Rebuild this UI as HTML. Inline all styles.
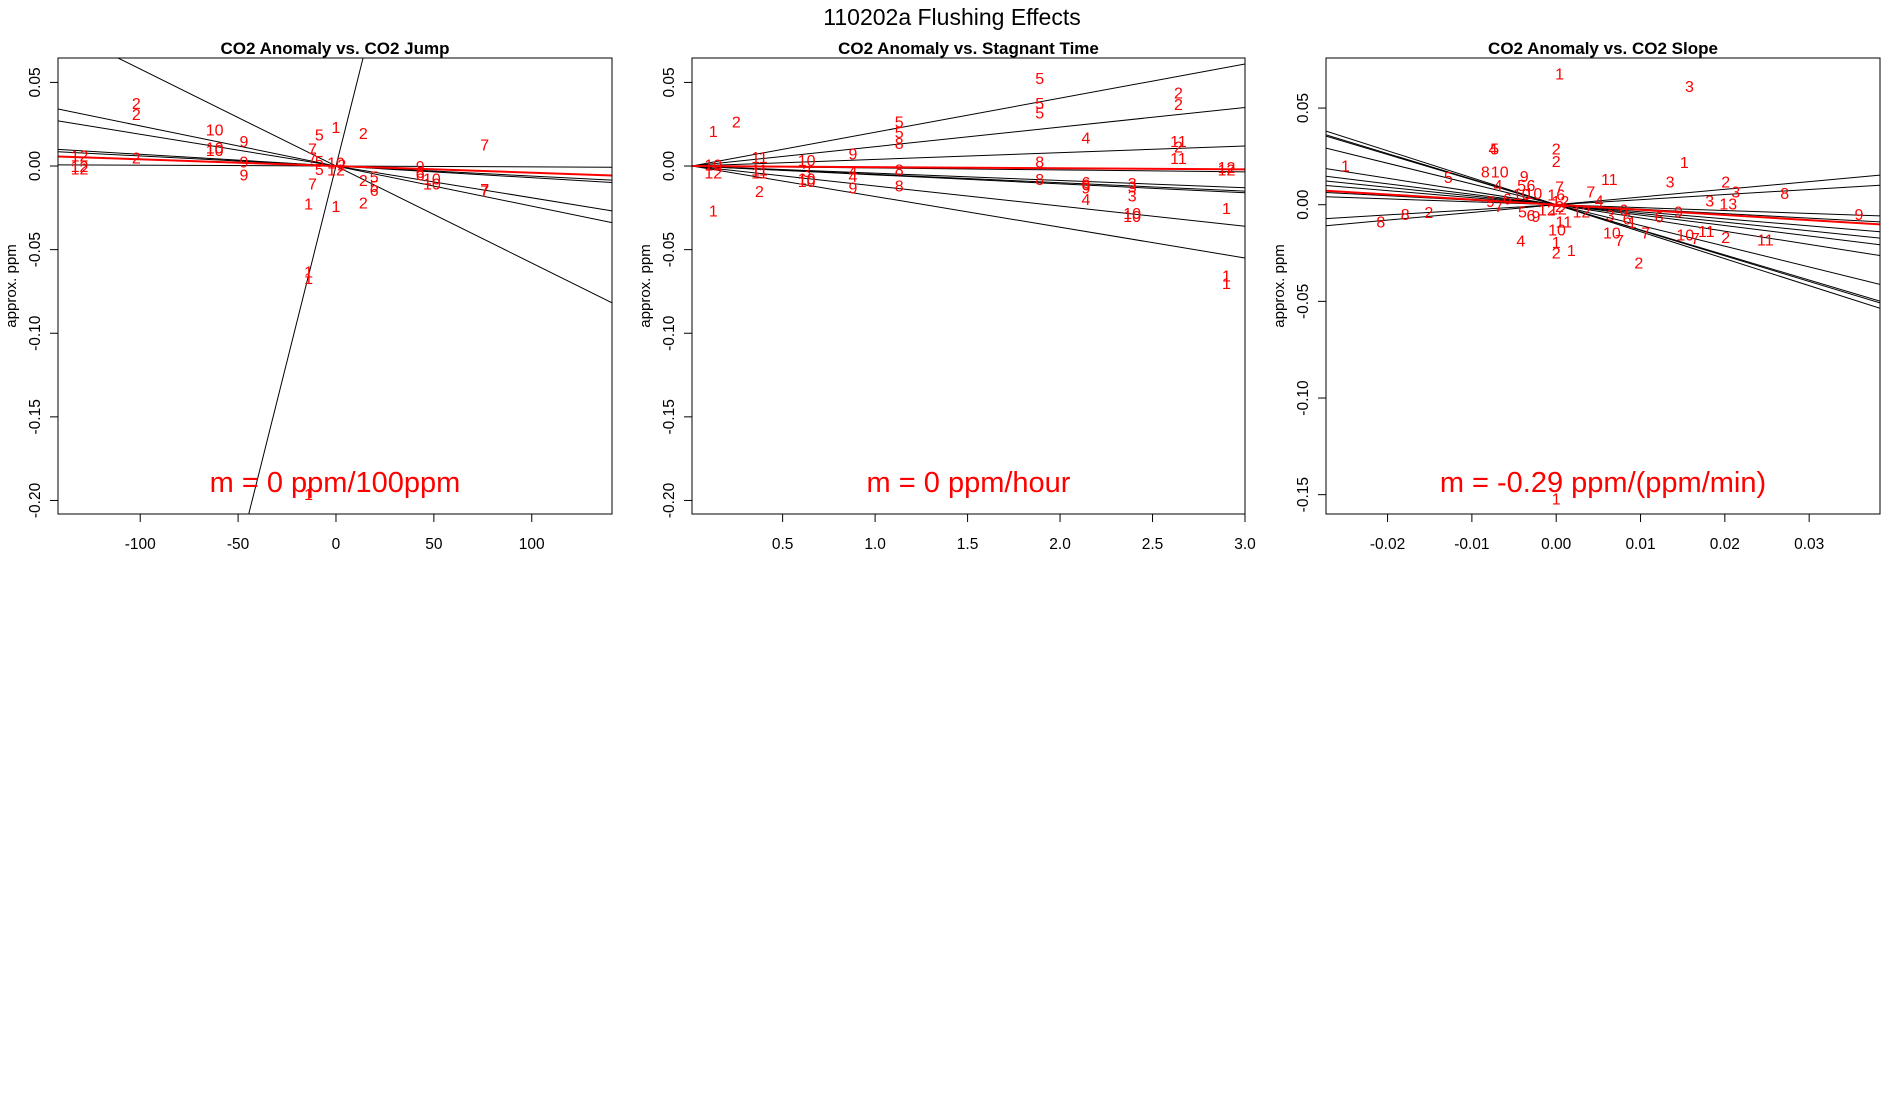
<!DOCTYPE html>
<html><head><meta charset="utf-8"><style>
html,body{margin:0;padding:0;background:#fff;overflow:hidden;width:1900px;height:1100px;}
svg{display:block;font-family:"Liberation Sans",sans-serif;}
</style></head><body>
<svg id="c" width="1900" height="1100">
<text x="952" y="25" font-size="23" text-anchor="middle">110202a   Flushing Effects</text>
</svg>
<script>
// Panel 1: CO2 Jump
const p1Slopes=[0.00467,-0.00058,-0.00024,-0.00019,-0.00007,-0.00006,-0.000005];
const p1Red=-0.00004;
const p1X=[-102,-102,-102,-131,-131,-131,-62,-62,-62,-47,-47,-47,-8.5,-12,-12,-8.5,-8.5,-12,0,0,-14,-14,-14,-14,14,14,14,19.5,19.5,19.5,0,0,3,43,43,43,49,49,76,76,76];
const p1Y=[0.0377,0.031,0.005,0.0064,-0.0015,0.0,0.0217,0.011,0.0096,0.015,0.0028,-0.005,0.019,0.0106,-0.0106,0.003,-0.0017,0.005,0.0234,-0.0238,-0.0223,-0.063,-0.067,-0.196,0.0198,-0.0219,-0.0085,-0.0064,-0.0143,-0.012,-0.002,0.002,0.001,0.0,-0.0036,-0.005,-0.0074,-0.0106,0.0128,-0.0138,-0.0145];
const p1L=["2","2","2","12","12","12","10","10","10","9","9","9","5","7","7","5","5","7","1","1","1","1","1","1","2","2","2","5","6","5","12","10","2","9","6","6","10","10","7","7","7"];
const p1XT=[-100,-50,0,50,100];
const p1YT=[0.05,0.00,-0.05,-0.10,-0.15,-0.20];
// Panel 2: Stagnant time
const p2Ends=[0.061,0.035,0.012,-0.0035,-0.013,-0.015,-0.016,-0.036,-0.055];
const p2Red=-0.002;
const p2X=[0.125,0.125,0.25,0.125,0.125,0.375,0.375,0.375,0.375,0.63,0.63,0.63,0.63,0.88,0.88,0.88,0.88,1.13,1.13,1.13,1.13,1.13,1.89,1.89,1.89,1.89,1.89,2.14,2.14,2.14,2.14,2.14,2.39,2.39,2.39,2.39,2.39,2.64,2.64,2.64,2.64,2.64,2.9,2.9,2.9,2.9,2.9];
const p2Y=[0.0209,-0.0266,0.0266,0.001,-0.004,0.0053,-0.002,-0.004,-0.0149,0.0036,-0.0074,-0.009,-0.003,0.0074,-0.0128,-0.003,-0.006,0.0266,0.0202,0.0138,-0.002,-0.0117,0.0526,0.0377,0.032,0.0026,-0.0079,0.017,-0.0198,-0.0096,-0.011,-0.0128,-0.0102,-0.0123,-0.0177,-0.028,-0.03,0.044,0.037,0.015,0.0117,0.0049,-0.0006,-0.002,-0.025,-0.0655,-0.07];
const p2L=["1","1","2","10","12","11","11","11","2","10","10","10","3","9","9","4","4","5","5","8","8","8","5","5","5","8","8","4","4","6","6","9","3","3","3","10","10","2","2","11","2","11","12","12","1","1","1"];
const p2XT=[0.5,1.0,1.5,2.0,2.5,3.0];
const p2YT=[0.05,0.00,-0.05,-0.10,-0.15,-0.20];
// Panel 3: CO2 slope
const p3Ends=[0.0153,0.0101,-0.0058,-0.0089,-0.014,-0.0173,-0.0207,-0.0263,-0.0412,-0.0499,-0.0508,-0.0536];
const p3Red=-0.0102;
const p3X=[0.0004,0.0158,-0.0075,-0.0073,0,0,-0.025,0.0152,-0.0084,-0.0067,-0.0128,-0.0038,0.0063,0.0135,0.0201,0.0213,0.0271,0.0182,0.0204,-0.0069,-0.0041,-0.003,0.0004,0.0041,0.0051,-0.0027,-0.0041,0,-0.0078,-0.0058,-0.0068,-0.004,-0.003,-0.0024,-0.0011,0.0004,0.003,0.0064,0.008,0.0084,0.009,0.0122,0.0145,0.0359,-0.0208,-0.0179,-0.0151,0.0009,0.0001,-0.0042,0,0,0.0018,0.0066,0.0075,0.0106,0.0153,0.0165,0.0178,0.0201,0.0248,0.0098,0,0.0005,0.0002];
const p3Y=[0.0678,0.0615,0.0292,0.0292,0.0292,0.0227,0.0203,0.0222,0.0171,0.0171,0.0143,0.0149,0.0134,0.0121,0.0119,0.0069,0.006,0.0022,0.0007,0.0102,0.0102,0.0102,0.0093,0.0069,0.0022,0.006,0.0055,0.0054,0.0019,0.0032,-0.0006,-0.0034,-0.0052,-0.0058,-0.0024,-0.0006,-0.0034,-0.0052,-0.0024,-0.0071,-0.0089,-0.0061,-0.0034,-0.0047,-0.0086,-0.0048,-0.0037,-0.0086,-0.0127,-0.0186,-0.0192,-0.0248,-0.0235,-0.0145,-0.0182,-0.0145,-0.0155,-0.0173,-0.0136,-0.0168,-0.0179,-0.03,-0.152,0.002,-0.002];
const p3L=["1","3","4","5","2","2","1","1","8","10","5","9","11","3","2","3","8","3","13","4","5","6","7","7","4","10","10","16","9","6","7","5","6","9","12","2","12","3","6","6","1","6","9","9","8","8","2","11","10","4","1","2","1","10","7","7","10","7","11","2","11","2","1","12","12"];
const p3XT=[-0.02,-0.01,0.00,0.01,0.02,0.03];
const p3YT=[0.05,0.00,-0.05,-0.10,-0.15];

const NS="http://www.w3.org/2000/svg";
const svg=document.getElementById('c');
function mk(t,a,parent){const e=document.createElementNS(NS,t);for(const k in a)e.setAttribute(k,a[k]);(parent||svg).appendChild(e);return e;}

function panel(o){
  const g=mk('g',{});
  
  
  const sx=v=>o.L+(v-o.x0)/(o.x1-o.x0)*(o.R-o.L);
  const sy=v=>o.T+(o.y1-v)/(o.y1-o.y0)*(o.B-o.T);
  const fy=(s,x)=>o.ox===undefined?s*x:s*(x-o.ox);
  const cid='clip'+o.id;
  const cp=mk('clipPath',{id:cid},g);mk('rect',{x:o.L,y:o.T,width:o.R-o.L,height:o.B-o.T},cp);
  const t=mk('text',{x:(o.L+o.R)/2,y:o.T-4,'font-size':17,'font-weight':'bold','text-anchor':'middle'},g);
  t.textContent=o.title;
  
  
  const yl=mk('text',{x:0,y:0,'font-size':15,'text-anchor':'middle',transform:`translate(${o.L-42},${(o.T+o.B)/2}) rotate(-90)`},g);
  yl.textContent='approx. ppm';
  
  
  o.xt.forEach(v=>{const x=sx(v);
    const tk=mk('line',{x1:x,x2:x,y1:o.B,y2:o.B+8,stroke:'#000','stroke-width':1},g);
    
    
    const tl=mk('text',{x:x,y:o.B+35,'font-size':15.5,'text-anchor':'middle'},g);
    tl.textContent=o.xfmt(v);
    
    });
  o.yt.forEach(v=>{const y=sy(v);
    const tk=mk('line',{x1:o.L-8,x2:o.L,y1:y,y2:y,stroke:'#000','stroke-width':1},g);
    
    
    const tl=mk('text',{x:0,y:0,'font-size':15.5,'text-anchor':'middle',transform:`translate(${o.L-18},${y}) rotate(-90)`},g);
    tl.textContent=v.toFixed(2);
    
    });
  const lg=mk('g',{'clip-path':`url(#${cid})`},g);
  o.lines.forEach(s=>{const l=mk('line',{x1:sx(o.x0),y1:sy(fy(s,o.x0)),x2:sx(o.x1),y2:sy(fy(s,o.x1)),stroke:'#000','stroke-width':1},lg);
    
    });
  for(let i=0;i<o.px.length;i++){const tx=mk('text',{x:sx(o.px[i]),y:sy(o.py[i])+6,'font-size':16,fill:'#ff0000','text-anchor':'middle'},lg);
    tx.textContent=o.pl[i];
    
    }
  const r=o.red;
  const rl=mk('line',{x1:sx(o.x0),y1:sy(fy(r,o.x0)),x2:sx(o.x1),y2:sy(fy(r,o.x1)),stroke:'#ff0000','stroke-width':2},lg);
  
  
  const m=mk('text',{x:(o.L+o.R)/2,y:o.B-22,'font-size':29,fill:'#ff0000','text-anchor':'middle'},g);
  m.textContent=o.mtext;
  
  
  const bx=mk('rect',{x:o.L,y:o.T,width:o.R-o.L,height:o.B-o.T,fill:'none',stroke:'#000','stroke-width':1},g);
  
  
}
panel({id:1,name:'panel-co2-jump',title:'CO2 Anomaly vs. CO2 Jump',L:58,R:612,T:58,B:514,x0:-142,x1:141,y0:-0.2081,y1:0.0646,
  xt:p1XT,yt:p1YT,xfmt:v=>String(v),lines:p1Slopes,red:p1Red,px:p1X,py:p1Y,pl:p1L,mtext:'m = 0 ppm/100ppm'});
panel({id:2,name:'panel-stagnant-time',title:'CO2 Anomaly vs. Stagnant Time',L:692,R:1245,T:58,B:514,x0:0.01,x1:3.0,y0:-0.2081,y1:0.0646,ox:0.01,
  xt:p2XT,yt:p2YT,xfmt:v=>v.toFixed(1),lines:p2Ends.map(v=>v/2.99),red:p2Red/2.99,px:p2X,py:p2Y,pl:p2L,mtext:'m = 0 ppm/hour'});
panel({id:3,name:'panel-co2-slope',title:'CO2 Anomaly vs. CO2 Slope',L:1326,R:1880,T:58,B:514,x0:-0.0273,x1:0.0384,y0:-0.160,y1:0.0759,
  xt:p3XT,yt:p3YT,xfmt:v=>v.toFixed(2),lines:p3Ends.map(v=>v/0.0384),red:p3Red/0.0384,px:p3X,py:p3Y,pl:p3L,mtext:'m = -0.29 ppm/(ppm/min)'});
</script>
</body></html>
